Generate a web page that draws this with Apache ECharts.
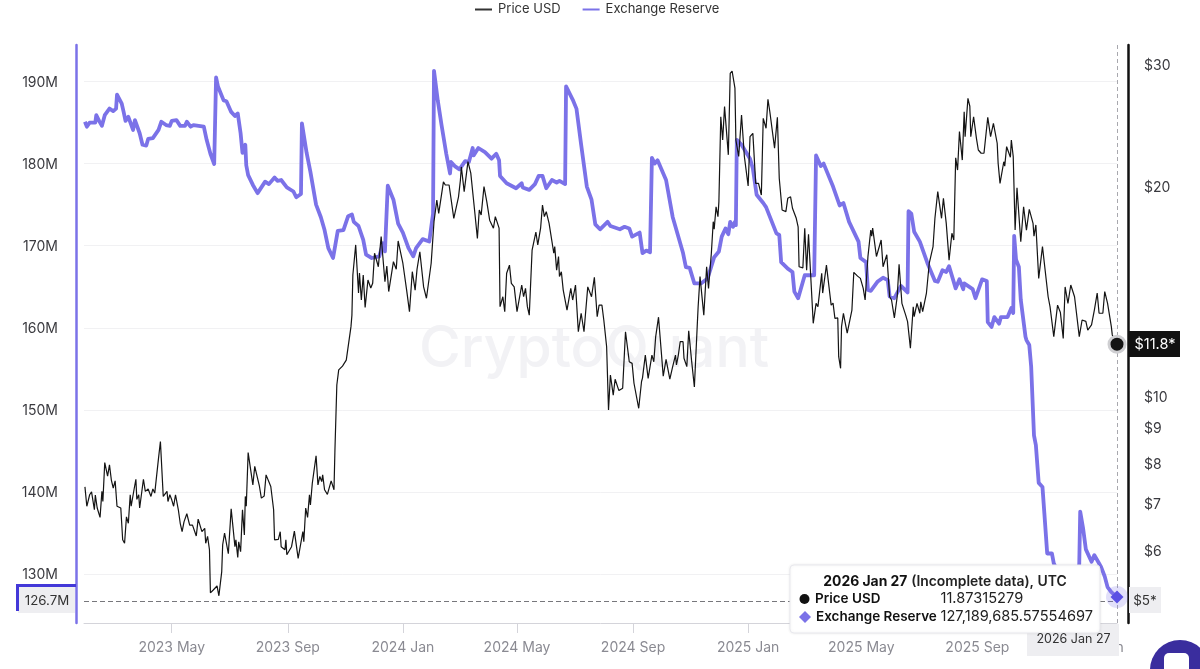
<!DOCTYPE html>
<html><head><meta charset="utf-8">
<style>html,body{margin:0;padding:0;background:#fff}#c{width:1200px;height:669px}</style>
<script src="https://cdn.jsdelivr.net/npm/echarts@6/dist/echarts.min.js"></script>
</head><body><div id="c"></div>
<script>
// x values are days since 2023-01-29
const seriesNames = ['Price USD', 'Exchange Reserve'];
const lastDay = 1094;
const tickDays = [92, 215, 337, 458, 581, 703, 823, 946, 1068];
const tickLabels = ['2023 May', '2023 Sep', '2024 Jan', '2024 May', '2024 Sep', '2025 Jan', '2025 May', '2025 Sep', '2026 Jan'];
const reserveTicks = [130, 140, 150, 160, 170, 180, 190];
const priceTicks = [6, 7, 8, 9, 10, 20, 30];

// [days since start, reserve in millions]
const reserveSeries = [[0,185.1],[2,184.5],[5,185.0],[11,185.0],[12,185.9],[15,185.2],[18,184.6],[21,185.9],[26,186.7],[30,186.4],[33,186.7],[34,188.4],[39,187.3],[41,186.3],[43,185.2],[46,185.7],[51,184.1],[53,185.3],[58,183.7],[61,182.3],[65,182.2],[67,183.0],[72,183.1],[78,184.1],[81,185.1],[86,184.7],[90,184.6],[92,185.2],[97,185.3],[101,184.6],[106,184.6],[108,185.1],[112,184.5],[115,184.7],[126,184.5],[129,182.9],[131,182.9],[133,181.2],[137,179.95],[138,180.0],[139,190.5],[141,189.4],[143,189.5],[147,187.7],[150,187.6],[155,186.3],[159,185.8],[162,186.1],[165,183.7],[167,181.3],[170,182.3],[171,179.8],[173,178.6],[178,177.4],[183,176.4],[185,176.5],[191,177.8],[195,177.5],[201,178.3],[204,177.9],[208,178.0],[214,177.1],[221,176.6],[224,175.9],[229,176.3],[230,184.9],[232,184.8],[235,181.3],[239,179.0],[241,179.2],[245,175.0],[250,173.5],[254,171.9],[258,169.7],[263,168.5],[268,171.8],[274,171.9],[279,173.6],[283,173.8],[285,172.9],[290,172.4],[295,170.7],[298,168.9],[304,168.5],[312,168.7],[316,170.3],[318,169.3],[320,169.2],[321,177.3],[327,175.6],[332,172.7],[334,172.9],[337,171.6],[339,171.6],[343,169.7],[348,168.7],[351,169.7],[358,170.8],[365,170.5],[369,173.9],[370,191.3],[372,191.2],[374,187.7],[378,184.7],[383,181.2],[387,178.8],[388,180.2],[392,179.7],[397,179.3],[403,180.3],[407,180.2],[411,181.9],[412,181.0],[417,181.9],[424,181.4],[431,180.6],[436,181.2],[439,180.4],[440,178.5],[447,177.6],[457,177.0],[463,177.6],[464,177.1],[471,176.8],[477,177.5],[481,178.5],[485,178.5],[489,177.0],[495,178.0],[500,177.7],[503,177.9],[509,177.5],[510,189.4],[512,189.3],[517,187.8],[521,186.7],[526,182.3],[532,177.2],[537,175.6],[541,172.6],[546,172.0],[554,172.9],[557,172.4],[567,172.0],[572,172.3],[577,172.1],[580,171.1],[588,171.6],[591,169.1],[595,169.4],[599,169.2],[601,180.7],[604,180.0],[607,180.4],[616,178.0],[623,173.5],[634,169.1],[637,167.4],[641,167.3],[646,165.4],[653,165.4],[660,166.0],[667,168.6],[672,169.3],[675,171.1],[677,171.2],[679,172.1],[682,171.4],[684,172.9],[687,172.3],[689,172.9],[690,172.5],[691,182.9],[696,182.3],[705,180.6],[708,179.4],[712,176.2],[719,175.2],[722,174.7],[733,171.5],[736,171.3],[738,168.0],[745,167.2],[750,166.8],[752,164.4],[756,163.6],[758,163.6],[763,166.4],[773,166.4],[775,181.0],[780,179.7],[783,180.0],[793,177.2],[800,174.9],[804,175.2],[810,172.9],[820,170.5],[822,168.5],[828,168.0],[830,164.6],[833,164.5],[840,165.6],[846,166.1],[851,165.8],[853,163.8],[858,163.6],[865,165.1],[872,164.3],[873,174.2],[876,173.9],[879,171.7],[885,170.5],[893,167.9],[901,165.7],[904,165.6],[909,167.0],[913,166.8],[916,167.5],[923,164.8],[927,165.9],[931,164.7],[932,165.4],[941,164.7],[944,163.6],[951,165.9],[956,165.7],[957,160.7],[961,160.1],[964,161.3],[969,160.5],[971,161.3],[978,161.3],[982,162.4],[984,161.8],[985,171.2],[987,168.3],[990,167.4],[992,163.4],[997,158.9],[998,158.5],[1001,157.9],[1003,155.3],[1006,146.9],[1008,145.7],[1011,141.1],[1015,140.6],[1017,137.4],[1020,132.5],[1025,132.5],[1027,131.3],[1033,129.9],[1046,129.5],[1053,129.9],[1054,131.3],[1055,137.6],[1058,135.6],[1061,133.0],[1067,131.5],[1070,132.3],[1074,131.5],[1077,130.9],[1081,129.7],[1084,128.4],[1088,127.8],[1094,127.19]];

// [days since start, price in USD]
const priceSeries = [[0,7.40],[2,6.94],[5,7.21],[7,7.28],[10,6.86],[11,7.20],[13,6.90],[16,6.69],[18,7.29],[19,7.05],[21,8.02],[23,8.02],[24,7.67],[26,7.96],[28,7.57],[30,7.37],[32,7.55],[34,6.94],[38,6.90],[40,6.21],[42,6.14],[44,6.70],[46,6.56],[48,7.21],[49,6.94],[52,7.33],[54,7.59],[55,7.10],[57,7.21],[58,6.90],[62,7.59],[64,7.29],[67,7.35],[70,7.17],[72,7.35],[74,7.25],[78,8.14],[80,8.60],[83,7.17],[87,7.29],[88,7.05],[90,7.21],[92,7.09],[94,6.94],[96,7.21],[99,6.86],[101,6.56],[103,6.38],[105,6.59],[108,6.77],[111,6.52],[114,6.52],[118,6.29],[120,6.65],[122,6.63],[124,6.38],[127,6.45],[128,6.14],[130,6.28],[132,6.01],[133,5.21],[136,5.26],[140,5.33],[142,5.16],[145,5.59],[146,6.11],[148,6.35],[152,5.93],[155,6.88],[159,6.07],[160,6.21],[162,5.86],[163,6.17],[165,5.97],[167,6.86],[169,6.31],[170,7.17],[171,6.94],[173,8.29],[178,7.45],[180,7.92],[182,7.87],[185,7.41],[187,7.13],[190,7.18],[192,7.70],[197,7.41],[200,6.86],[201,6.21],[205,6.22],[207,6.38],[208,6.07],[212,6.01],[213,6.21],[214,5.91],[219,6.07],[222,6.39],[226,5.84],[231,6.38],[232,6.17],[234,6.90],[236,6.69],[238,7.21],[239,6.97],[241,7.49],[245,8.20],[247,7.45],[249,7.66],[251,7.53],[252,7.70],[254,7.33],[257,7.22],[261,7.55],[264,7.33],[265,8.36],[267,10.37],[269,10.90],[273,11.04],[277,11.26],[282,12.58],[283,13.07],[284,14.93],[287,16.49],[290,14.06],[291,15.02],[293,13.74],[295,14.93],[297,13.41],[300,14.68],[303,14.30],[305,14.52],[307,16.04],[311,15.34],[314,16.96],[318,14.60],[320,15.37],[322,14.13],[327,15.60],[330,15.21],[332,16.71],[337,15.52],[341,14.20],[344,13.22],[347,15.09],[350,14.20],[352,15.21],[355,16.12],[359,14.35],[362,13.82],[367,15.52],[370,17.81],[373,19.13],[375,18.31],[380,20.32],[382,20.11],[386,20.11],[391,18.01],[396,19.34],[398,20.44],[399,21.35],[402,19.67],[406,21.73],[409,20.92],[411,20.92],[413,18.51],[416,16.85],[418,18.51],[420,18.21],[423,20.00],[426,19.02],[429,17.90],[433,17.43],[435,18.11],[439,17.43],[440,13.44],[443,13.89],[445,13.22],[447,15.01],[450,15.42],[452,14.52],[455,14.35],[458,13.22],[463,14.44],[465,13.89],[467,14.28],[469,13.44],[471,13.07],[474,16.21],[478,17.21],[480,16.49],[483,17.43],[485,18.82],[487,18.11],[489,18.41],[492,17.71],[494,17.75],[497,16.04],[498,16.40],[500,15.17],[502,15.87],[503,14.85],[505,15.09],[507,14.20],[511,13.29],[515,14.28],[517,13.74],[520,14.44],[523,12.37],[526,13.15],[529,12.37],[533,14.35],[537,13.89],[540,14.81],[543,13.00],[545,13.51],[548,13.51],[550,12.86],[553,11.77],[555,9.55],[557,10.72],[560,10.03],[562,10.57],[563,10.54],[566,10.18],[570,10.26],[573,12.37],[577,11.20],[580,11.14],[582,10.43],[584,10.37],[587,9.60],[590,10.49],[591,10.61],[594,11.45],[597,10.60],[601,11.45],[603,11.20],[605,12.17],[608,12.98],[613,10.68],[616,11.29],[620,10.57],[623,11.02],[626,11.45],[627,11.08],[629,11.45],[631,11.97],[634,11.97],[635,11.33],[638,11.02],[640,12.41],[643,11.26],[646,10.30],[649,12.58],[650,13.44],[652,14.85],[656,13.07],[659,15.34],[661,14.28],[664,16.04],[666,17.81],[667,17.37],[669,18.71],[671,18.11],[672,19.02],[674,25.21],[676,23.34],[678,26.07],[680,26.20],[682,22.22],[684,29.10],[686,29.33],[689,27.72],[690,23.34],[693,22.10],[696,25.36],[699,22.10],[703,20.05],[705,23.60],[708,23.86],[711,20.22],[714,20.22],[717,19.45],[719,25.08],[722,24.27],[724,26.71],[726,25.63],[731,22.72],[734,25.16],[736,20.55],[739,18.51],[743,18.41],[745,19.24],[748,19.34],[750,18.62],[754,18.01],[756,17.51],[757,15.34],[761,15.28],[763,17.43],[765,15.17],[767,17.08],[772,12.72],[775,13.59],[777,13.44],[781,15.01],[782,14.06],[786,15.42],[788,15.52],[791,13.51],[793,13.60],[795,12.93],[798,12.95],[799,11.39],[801,10.96],[802,12.58],[804,13.15],[808,12.31],[813,13.29],[815,15.06],[819,14.87],[822,14.76],[825,14.28],[827,13.74],[830,15.87],[833,17.32],[834,16.97],[835,17.43],[839,15.87],[841,15.77],[844,16.76],[846,15.34],[850,15.96],[853,13.89],[855,13.74],[858,12.95],[861,13.89],[863,15.47],[866,13.59],[870,13.07],[872,12.79],[875,11.71],[878,13.44],[879,13.00],[882,13.59],[885,13.15],[886,13.66],[888,13.22],[892,14.06],[895,15.52],[899,16.40],[901,18.01],[904,19.67],[906,19.61],[908,18.01],[910,19.24],[913,17.71],[916,15.68],[919,17.14],[921,16.76],[923,22.00],[925,21.13],[927,24.00],[930,21.84],[932,25.63],[933,23.60],[936,26.80],[938,26.10],[939,23.60],[942,25.21],[945,23.47],[947,22.58],[950,22.34],[953,22.34],[957,25.16],[960,23.60],[963,24.67],[967,23.09],[968,21.61],[970,20.22],[974,21.72],[975,21.41],[977,22.83],[981,22.04],[982,23.34],[984,22.10],[986,17.32],[988,19.92],[992,16.66],[995,18.71],[998,17.32],[1001,18.55],[1005,17.71],[1006,16.97],[1008,17.62],[1011,14.76],[1015,16.40],[1021,13.89],[1023,13.44],[1027,12.17],[1031,13.51],[1034,13.18],[1037,12.10],[1039,14.35],[1042,13.59],[1045,14.44],[1049,13.89],[1054,12.17],[1057,12.86],[1061,12.80],[1063,12.44],[1067,12.65],[1070,13.29],[1073,14.06],[1075,13.15],[1079,13.15],[1081,14.13],[1084,13.59],[1088,12.58],[1089,12.24],[1091,12.07],[1094,11.87]];

const FONT = 'Inter';
const PURPLE = '#7b72e8';
const crossReserve = 126.7;
const ttValues = ['11.87315279', '127,189,685.57554697'];

const chart = echarts.init(document.getElementById('c'), null, {width: 1200, height: 669});

function box(x, y, w, h, fill, z) {
  return {type: 'rect', shape: {x, y, width: w, height: h}, style: {fill}, z: z || 100, silent: true};
}
function txt(x, y, text, o) {
  return {type: 'text', x, y, z: 110, silent: true, style: Object.assign({
    text, fill: '#333', font: '13.5px ' + FONT, textAlign: 'left', textVerticalAlign: 'middle'
  }, o || {})};
}

chart.setOption({
  animation: false,
  backgroundColor: '#fff',
  textStyle: {fontFamily: FONT},
  legend: {
    data: seriesNames, left: 470, top: -2, icon: 'rect', itemWidth: 17, itemHeight: 2, itemGap: 22,
    textStyle: {fontFamily: FONT, fontSize: 13, color: '#333', padding: [0, 0, 0, 1]}
  },
  grid: {left: 84, right: 83, top: 45, bottom: 46},
  xAxis: {
    type: 'value', min: -1, max: lastDay,
    axisLine: {onZero: false, lineStyle: {color: '#d4d4da', width: 1}},
    axisTick: {show: true, length: 10, lineStyle: {color: '#d4d4da'}, customValues: tickDays},
    axisLabel: {
      customValues: tickDays, hideOverlap: false, margin: 18,
      color: '#8a8a92', fontSize: 14, fontFamily: FONT,
      formatter: v => tickLabels[tickDays.indexOf(+v)] || ''
    },
    splitLine: {show: false}
  },
  yAxis: [{
    type: 'value', position: 'left', min: 124.03, max: 194.45, offset: 8,
    axisLine: {show: true, onZero: false, lineStyle: {color: PURPLE, width: 2.5}},
    axisTick: {show: false, customValues: reserveTicks},
    axisLabel: {customValues: reserveTicks, margin: 18, color: '#3a3a3f', fontSize: 14, fontFamily: FONT, verticalAlign: 'top', padding: [-6, 0, 0, 0], formatter: v => v + 'M'},
    splitLine: {show: true, lineStyle: {color: '#f1f1f3', width: 1}}
  }, {
    type: 'log', logBase: 10, position: 'right', min: 4.715, max: 31.97, offset: 11,
    axisLine: {show: true, onZero: false, lineStyle: {color: '#111', width: 2.5}},
    axisTick: {show: false},
    axisLabel: {customValues: priceTicks, margin: 16, color: '#3a3a3f', fontSize: 14, fontFamily: FONT, verticalAlign: 'top', padding: [-5.5, 0, 0, 0], formatter: v => '$' + Math.round(v)},
    splitLine: {show: false}
  }],
  series: [{
    name: seriesNames[0], type: 'line', yAxisIndex: 1, z: 4, showSymbol: false, symbol: 'none',
    clip: false,
    data: priceSeries,
    lineStyle: {color: '#141414', width: 1.2}, itemStyle: {color: '#333'},
    markPoint: {
      silent: true, label: {show: false},
      data: [{coord: [lastDay, 11.87], symbol: 'circle', symbolSize: 16,
        itemStyle: {color: '#141414', borderColor: '#cfcfd2', borderWidth: 3}}]
    }
  }, {
    name: seriesNames[1], type: 'line', yAxisIndex: 0, z: 3, showSymbol: false, symbol: 'none',
    clip: false,
    data: reserveSeries,
    lineStyle: {color: PURPLE, width: 3.8, join: 'round'}, itemStyle: {color: PURPLE},
    markLine: {
      silent: true, symbol: 'none', label: {show: false},
      data: [
        {yAxis: crossReserve, lineStyle: {color: '#77777c', type: [5, 3], width: 1}},
        {xAxis: lastDay, lineStyle: {color: '#a8a8ae', type: [4, 3], width: 1}}
      ]
    },
    markPoint: {
      silent: true, label: {show: false},
      data: [
        {coord: [lastDay, 127.19], symbol: 'circle', symbolSize: 22, itemStyle: {color: 'rgba(123,114,232,0.22)'}},
        {coord: [lastDay, 127.19], symbol: 'diamond', symbolSize: 13, itemStyle: {color: '#5a50e4'}}
      ]
    }
  }],
  graphic: [
    // watermark
    {type: 'text', x: 594, y: 350, z: 0, silent: true, style: {
      text: 'CryptoQuant', fill: '#f2f2f5', font: '500 57px ' + FONT, textAlign: 'center', textVerticalAlign: 'middle'}},
    // left crosshair label
    box(18, 587, 57, 26, '#eeeef1'),
    box(16, 584, 60, 3, '#4338d8'),
    box(16, 584, 3, 27, '#4338d8'),
    txt(47, 600.5, '126.7M', {textAlign: 'center', font: '13.3px ' + FONT, fill: '#333'}),
    // right crosshair labels
    box(1129, 331, 51, 26, '#111'),
    txt(1155, 344.5, '$11.8*', {textAlign: 'center', fill: '#fff', font: '14.5px ' + FONT}),
    box(1129, 587, 32, 26, '#eeeef1'),
    txt(1145, 600.5, '$5*', {textAlign: 'center', font: '13.5px ' + FONT}),
    // bottom date label
    box(1027, 624, 92, 32, '#eeeef1'),
    txt(1073.5, 639, '2026 Jan 27', {textAlign: 'center', font: '12.5px ' + FONT}),
    // tooltip
    {type: 'rect', z: 105, silent: true, shape: {x: 790, y: 565, width: 310, height: 68, r: 4},
     style: {fill: '#fff', stroke: '#e9e9ee', lineWidth: 1, shadowBlur: 3, shadowColor: 'rgba(0,0,0,0.08)'}},
    txt(945, 581.5, '{b|2026 Jan 27} {m|(Incomplete data), UTC}', {textAlign: 'center', rich: {
      b: {font: '700 13.9px ' + FONT, fill: '#111'}, m: {font: '600 13.9px ' + FONT, fill: '#222'}}}),
    {type: 'circle', z: 110, silent: true, shape: {cx: 804.5, cy: 599, r: 5}, style: {fill: '#111'}},
    txt(815, 599, seriesNames[0], {font: '600 13.5px ' + FONT, fill: '#111'}),
    txt(940.5, 599, ttValues[0], {font: '14.6px ' + FONT, fill: '#222'}),
    {type: 'polygon', z: 110, silent: true, shape: {points: [[805, 611], [811, 617], [805, 623], [799, 617]]}, style: {fill: PURPLE}},
    txt(816, 617, seriesNames[1], {font: '600 13.5px ' + FONT, fill: '#111'}),
    txt(940.5, 617, ttValues[1], {font: '14.6px ' + FONT, fill: '#222'}),
    // chat widget
    {type: 'circle', z: 120, silent: true, shape: {cx: 1180, cy: 670, r: 30}, style: {fill: '#3a2d9e'}},
    {type: 'rect', z: 121, silent: true, shape: {x: 1164, y: 653, width: 25, height: 30, r: 5}, style: {fill: '#fff'}}
  ]
});
</script></body></html>
